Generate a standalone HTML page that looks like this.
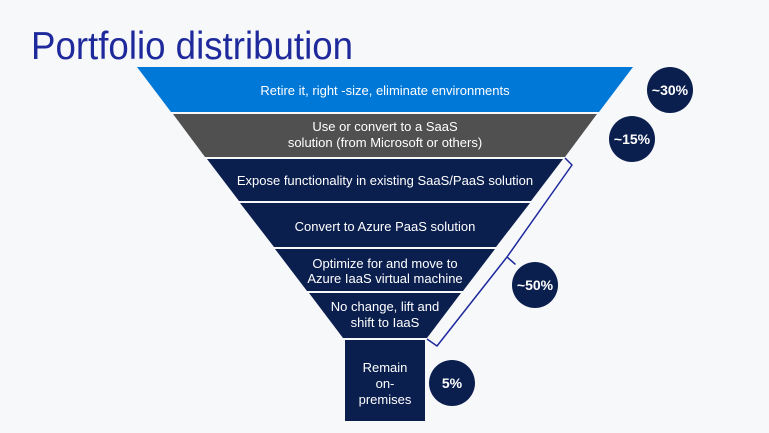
<!DOCTYPE html>
<html><head><meta charset="utf-8"><style>
html,body{margin:0;padding:0;background:#f7f8fa;}
svg{display:block;font-family:"Liberation Sans",sans-serif;}
</style></head><body>
<svg width="769" height="433" viewBox="0 0 769 433" xmlns="http://www.w3.org/2000/svg">
<rect width="769" height="433" fill="#f7f8fa"/>
<text x="31" y="59" font-size="39" fill="#1e2a9c" textLength="322" lengthAdjust="spacingAndGlyphs">Portfolio distribution</text>
<polygon points="137,67 633,67 599,112 171,112" fill="#0078d7"/>
<polygon points="173,114 597,114 565,157 205,157" fill="#505050"/>
<polygon points="207,159 563,159 531,201 239,201" fill="#0b1f4f"/>
<polygon points="240,203 530,203 496,247 274,247" fill="#0b1f4f"/>
<polygon points="275,249 495,249 463,291 307,291" fill="#0b1f4f"/>
<polygon points="309,293 461,293 427,338 343,338" fill="#0b1f4f"/>
<rect x="345" y="340" width="80" height="81" fill="#0b1f4f"/>
<g fill="#ffffff" font-size="13" text-anchor="middle">
<text x="385" y="95">Retire it, right -size, eliminate environments</text>
<text x="385" y="131">Use or convert to a SaaS</text>
<text x="385" y="147">solution (from Microsoft or others)</text>
<text x="385" y="185">Expose functionality in existing SaaS/PaaS solution</text>
<text x="385" y="231">Convert to Azure PaaS solution</text>
<text x="385" y="268">Optimize for and move to</text>
<text x="385" y="283">Azure IaaS virtual machine</text>
<text x="385" y="311">No change, lift and</text>
<text x="385" y="327">shift to IaaS</text>
<text x="385" y="372">Remain</text>
<text x="385" y="388">on-</text>
<text x="385" y="404">premises</text>
</g>
<polyline points="565,158 572,165 507,257 515,264 507,257 437,346 427,339" fill="none" stroke="#1e2a9c" stroke-width="1.5" stroke-linejoin="round"/>
<g fill="#0b1f4f">
<circle cx="670" cy="90" r="23"/>
<circle cx="632" cy="139" r="23"/>
<circle cx="535" cy="285" r="23"/>
<circle cx="452" cy="383" r="23"/>
</g>
<g fill="#ffffff" font-size="14" font-weight="bold" text-anchor="middle">
<text x="670" y="95">~30%</text>
<text x="632" y="144">~15%</text>
<text x="535" y="290">~50%</text>
<text x="452" y="388">5%</text>
</g>
</svg>
</body></html>
